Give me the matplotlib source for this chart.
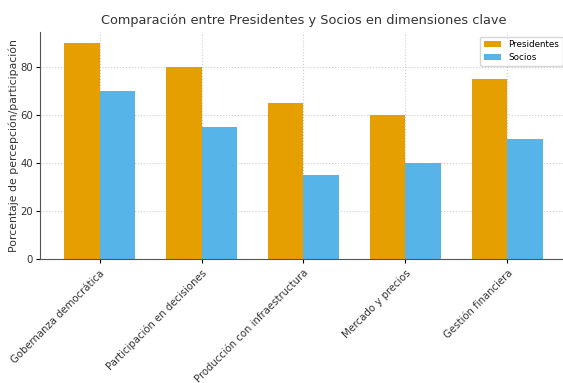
import numpy as np
import matplotlib.pyplot as plt

categorias = ['Gobernanza democrática', 'Participación en decisiones',
              'Producción con infraestructura', 'Mercado y precios', 'Gestión financiera']
presidentes = [90, 80, 65, 60, 75]
socios = [70, 55, 35, 40, 50]

x = np.arange(len(categorias))
ancho = 0.35

fig = plt.figure(figsize=(5.63, 3.83), dpi=100)
ax = fig.add_axes([0.071, 0.324, 0.936, 0.592])

ax.bar(x - ancho / 2, presidentes, ancho, label='Presidentes', color='#E69F00')
ax.bar(x + ancho / 2, socios, ancho, label='Socios', color='#56B4E9')

ax.set_title('Comparación entre Presidentes y Socios en dimensiones clave', fontsize=9.3, color='#333333')
ax.set_ylabel('Porcentaje de percepción/participación', fontsize=7.8, color='#333333', labelpad=1)
ax.set_xticks(x)
ax.set_xticklabels(categorias, rotation=45, ha='right', rotation_mode='anchor', fontsize=7.3, color='#333333')
ax.tick_params(axis='y', labelsize=7.3, labelcolor='#333333', length=3, pad=2)
ax.tick_params(axis='x', length=3)
ax.set_yticks([0, 20, 40, 60, 80])

ax.grid(True, linestyle=':', color='#cccccc', linewidth=0.8)
ax.set_axisbelow(True)
for s in ['top', 'right']:
    ax.spines[s].set_visible(False)
for s in ['left', 'bottom']:
    ax.spines[s].set_color('#555555')

ax.legend(fontsize=6.3, loc='upper right')

fig.savefig('out.png', dpi=100)
